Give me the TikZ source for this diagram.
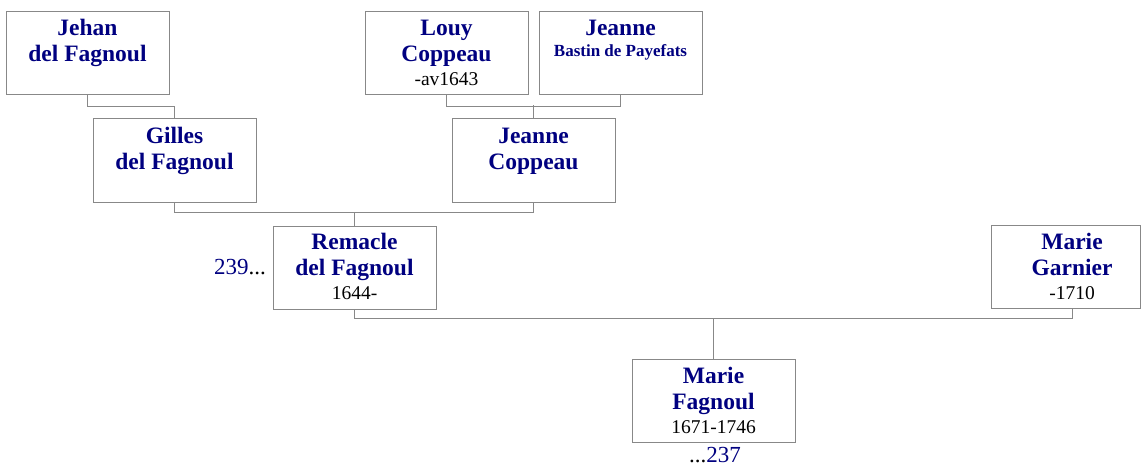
\documentclass[tikz,border=0pt]{standalone}
\usepackage{fontspec}
\setmainfont{Liberation Serif}
\definecolor{navy}{RGB}{0,0,128}
\definecolor{lgray}{RGB}{136,136,136}
\tikzset{
  pbox/.style={draw=lgray, line width=1pt, fill=white, minimum width=163pt, minimum height=83pt, inner sep=0pt},
  nm/.style={anchor=base, inner sep=0pt, text=navy, font=\fontsize{23.5}{26}\selectfont\bfseries},
  sm/.style={anchor=base, inner sep=0pt, text=navy, font=\fontsize{17}{19}\selectfont\bfseries},
  dt/.style={anchor=base, inner sep=0pt, text=black, font=\fontsize{19.5}{22}\selectfont},
  ref/.style={anchor=base, inner sep=0pt, text=navy, font=\fontsize{23}{26}\selectfont},
  conn/.style={draw=lgray, line width=1pt},
}
\begin{document}
\begin{tikzpicture}[x=1pt,y=-1pt]
\useasboundingbox (0,0) rectangle (1142,468);
% boxes
\node[pbox] (jehan) at (87.5,53.5) {};
\node[nm] (jehan1) at (87.5,36) {Jehan};
\node[nm] (jehan2) at (87.5,62) {del Fagnoul};

\node[pbox] (louy) at (446.5,53.5) {};
\node[nm] (louy1) at (446.5,36) {Louy};
\node[nm] (louy2) at (446.5,62) {Coppeau};
\node[dt] (louy3) at (446.5,86) {-av1643};

\node[pbox] (jeanneb) at (620.5,53.5) {};
\node[nm] (jeanneb1) at (620.5,36) {Jeanne};
\node[sm] (jeanneb2) at (620.5,57) {Bastin de Payefats};

\node[pbox] (gilles) at (174.5,160.5) {};
\node[nm] (gilles1) at (174.5,143) {Gilles};
\node[nm] (gilles2) at (174.5,169) {del Fagnoul};

\node[pbox] (jeannec) at (533.5,160.5) {};
\node[nm] (jeannec1) at (533.5,143) {Jeanne};
\node[nm] (jeannec2) at (533.5,169) {Coppeau};

\node[pbox] (remacle) at (354.5,267.5) {};
\node[nm] (remacle1) at (354.5,249) {Remacle};
\node[nm] (remacle2) at (354.5,275) {del Fagnoul};
\node[dt] (remacle3) at (354.5,299) {1644-};

\node[pbox, minimum width=149pt] (garnier) at (1065.5,267) {};
\node[nm] (garnier1) at (1072,249) {Marie};
\node[nm] (garnier2) at (1072,275) {Garnier};
\node[dt] (garnier3) at (1072,299) {-1710};

\node[pbox] (marief) at (713.5,400.5) {};
\node[nm] (marief1) at (713.5,383) {Marie};
\node[nm] (marief2) at (713.5,409) {Fagnoul};
\node[dt] (marief3) at (713.5,433) {1671-1746};

% references
\node[ref, anchor=base east] (r239) at (266,274) {239\textcolor{black}{...}};
\node[ref, anchor=base west] (r237) at (689,462) {\textcolor{black}{...}237};

% connectors
\draw[conn] (jehan.south) -- ++(0,11) -| (gilles.north);
\draw[conn] (louy.south) -- ++(0,11) -| (jeanneb.south);
\draw[conn] (jeannec.north) -- ++(0,-13);
\draw[conn] (gilles.south) -- ++(0,10) -| (jeannec.south);
\draw[conn] (remacle.north) -- ++(0,-14);
\draw[conn] (remacle.south) -- ++(0,9) -| (garnier1 |- garnier.south);
\draw[conn] (marief.north) -- ++(0,-41);
\end{tikzpicture}
\end{document}
